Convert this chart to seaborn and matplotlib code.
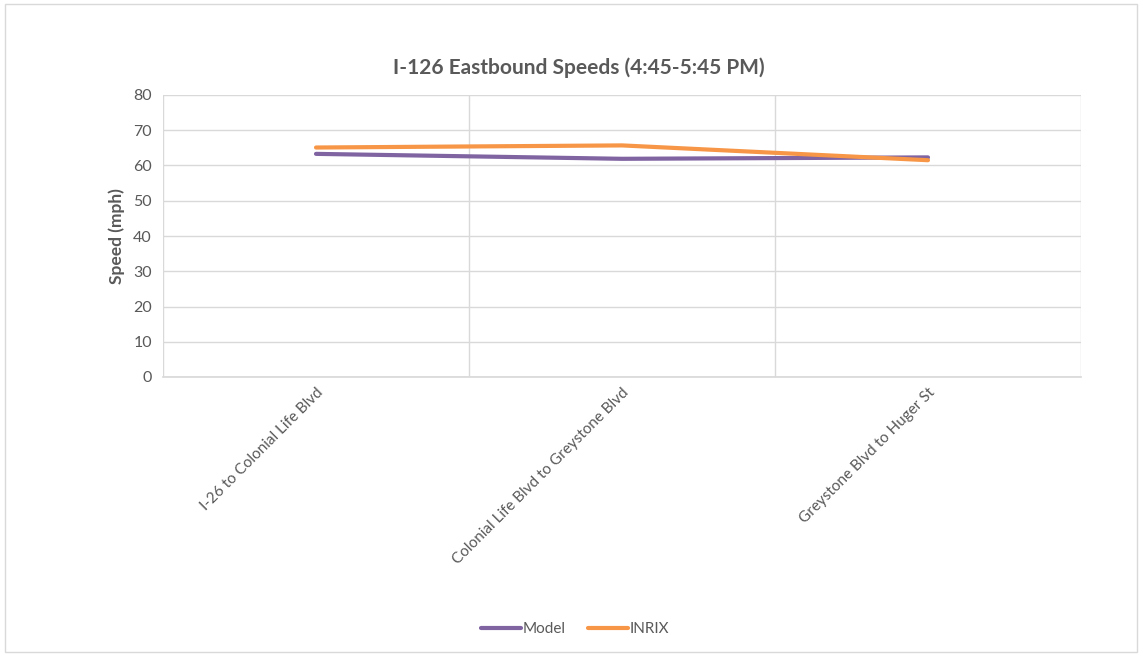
import matplotlib
matplotlib.use("Agg")
import matplotlib.pyplot as plt
from matplotlib.patches import Rectangle
import seaborn as sns
import pandas as pd

segments = ["I-26 to Colonial Life Blvd",
            "Colonial Life Blvd to Greystone Blvd",
            "Greystone Blvd to Huger St"]
model_speed = [63.3, 61.9, 62.3]
inrix_speed = [65.1, 65.7, 61.5]
series_names = ["Model", "INRIX"]
series_colors = ["#8064A2", "#F79646"]
y_ticks = [0, 10, 20, 30, 40, 50, 60, 70, 80]

df = pd.DataFrame({
    "pos": list(range(len(segments))) * 2,
    "speed": model_speed + inrix_speed,
    "series": [series_names[0]] * len(segments) + [series_names[1]] * len(segments),
})

sns.set_theme(style="white")
plt.rcParams["font.family"] = ["Lato", "DejaVu Sans"]
text_color = "#595959"
grid_color = "#D9D9D9"

fig = plt.figure(figsize=(11.43, 6.56), dpi=100)
ax = fig.add_axes([163 / 1143, 1 - 377 / 656, (1081 - 163) / 1143, (377 - 95) / 656])

sns.lineplot(data=df, x="pos", y="speed", hue="series", hue_order=series_names,
             palette=series_colors, linewidth=3, sort=False, ax=ax, legend=False)

ax.set_xlim(-0.5, len(segments) - 0.5)
ax.set_ylim(0, 80)
ax.set_yticks(y_ticks)
ax.set_yticklabels([str(t) for t in y_ticks], color=text_color, fontsize=11.5)
ax.set_xticks(range(len(segments)))
ax.set_xticklabels(segments, rotation=45, ha="right", rotation_mode="anchor",
                   color=text_color, fontsize=11)
ax.set_xticks([i - 0.5 for i in range(len(segments) + 1)], minor=True)
ax.tick_params(axis="both", which="both", length=0, pad=8)
ax.tick_params(axis="x", which="major", pad=6)
ax.grid(True, axis="y", which="major", color=grid_color, linewidth=1)
ax.grid(True, axis="x", which="minor", color=grid_color, linewidth=1)
ax.grid(False, axis="x", which="major")
ax.set_axisbelow(True)
for side in ["top", "right", "left"]:
    ax.spines[side].set_visible(False)
ax.spines["bottom"].set_color(grid_color)

ax.set_xlabel("")
ax.set_ylabel("Speed (mph)", color=text_color, fontsize=12.5, fontweight="bold", labelpad=6)
fig.text(579 / 1143, 1 - 68 / 656, "I-126 Eastbound Speeds (4:45-5:45 PM)",
         ha="center", va="center", color=text_color, fontsize=15, fontweight="bold")

handles = [plt.Line2D([], [], color=c, linewidth=3) for c in series_colors]
fig.legend(handles, series_names, loc="center", bbox_to_anchor=(575 / 1143, 1 - 629 / 656),
           ncol=2, frameon=False, fontsize=11, labelcolor=text_color,
           handlelength=2.6, handletextpad=0.1, columnspacing=1.5)

fig.patches.append(Rectangle((5 / 1143, 4 / 656), 1132 / 1143, 648 / 656,
                             transform=fig.transFigure, fill=False,
                             edgecolor="#D9D9D9", linewidth=1))

fig.savefig("out.png", dpi=100, facecolor="white")
